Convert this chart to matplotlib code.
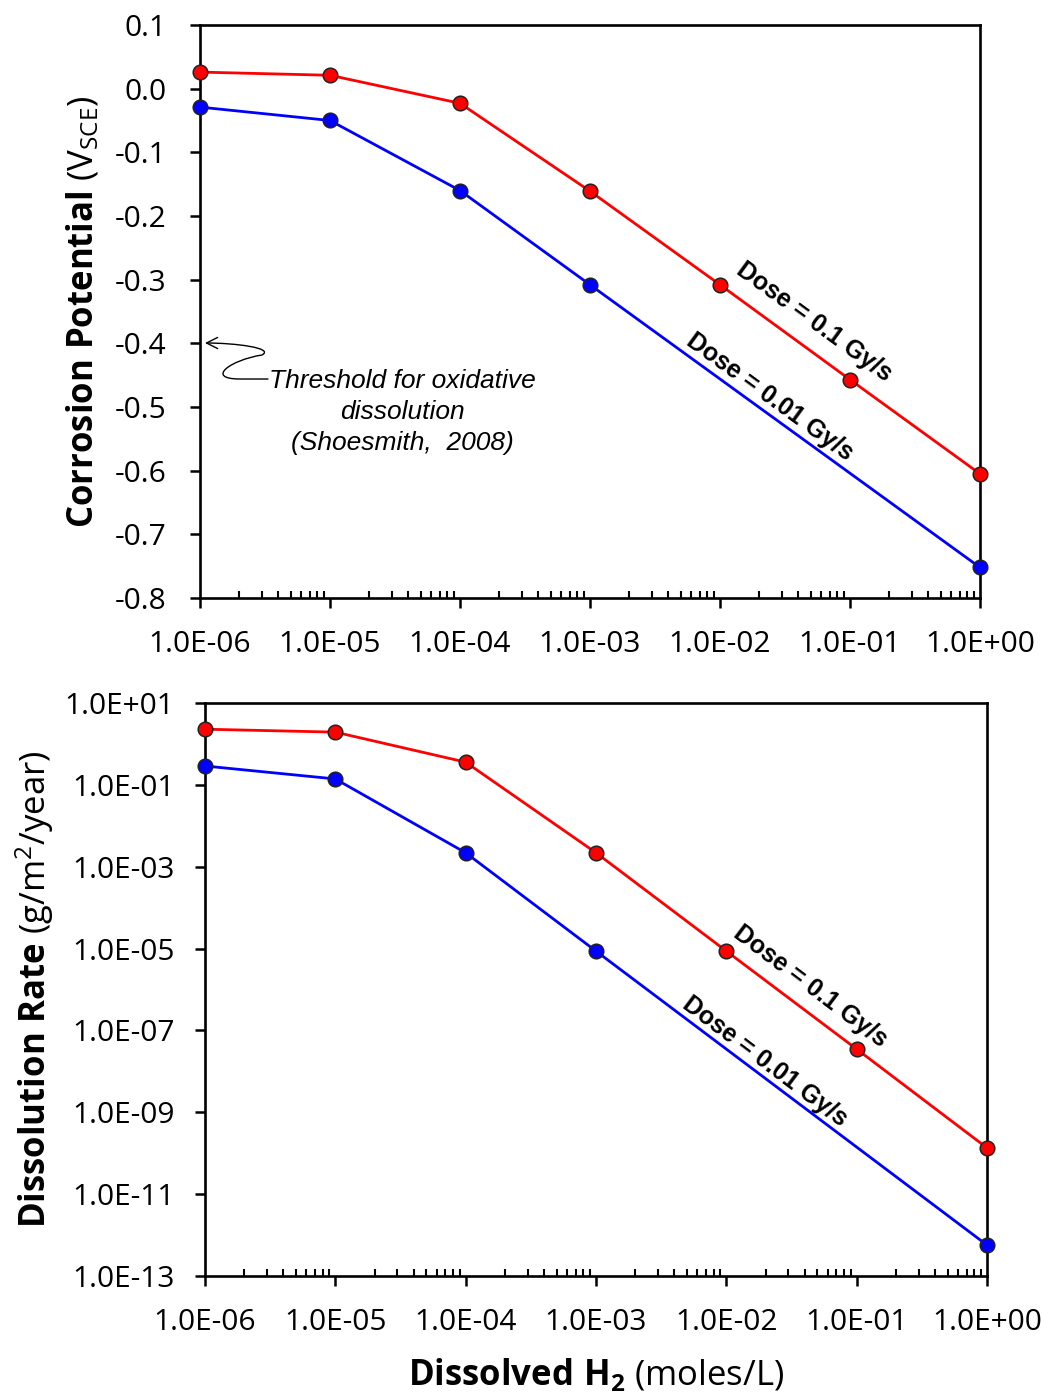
import numpy as np
import matplotlib
matplotlib.use("Agg")
import matplotlib.pyplot as plt
from matplotlib.ticker import FuncFormatter, LogLocator, FixedLocator
from matplotlib.patches import FancyArrowPatch
from matplotlib.path import Path

plt.rcParams["font.family"] = "Open Sans"
plt.rcParams["mathtext.fontset"] = "custom"
plt.rcParams["mathtext.rm"] = "Open Sans"
plt.rcParams["mathtext.bf"] = "Open Sans:bold"
plt.rcParams["mathtext.it"] = "Open Sans:italic"

# dissolved H2 (moles/L)
h2_red = [1e-6, 1e-5, 1e-4, 1e-3, 1e-2, 1e-1, 1e0]
h2_blue = [1e-6, 1e-5, 1e-4, 1e-3, 1e0]

# corrosion potential (V_SCE)
ecorr_01 = [0.026, 0.021, -0.023, -0.161, -0.308, -0.457, -0.605]
ecorr_001 = [-0.029, -0.050, -0.160, -0.308, -0.752]

# dissolution rate (g/m2/year)
rate_01 = [2.3, 1.95, 0.36, 2.2e-3, 8.7e-6, 3.5e-8, 1.35e-10]
rate_001 = [0.29, 0.14, 2.2e-3, 8.7e-6, 5.7e-13]

xticks = [1e-6, 1e-5, 1e-4, 1e-3, 1e-2, 1e-1, 1e0]
top_yticks = [0.1, 0.0, -0.1, -0.2, -0.3, -0.4, -0.5, -0.6, -0.7, -0.8]
bot_yticks = [1e1, 1e-1, 1e-3, 1e-5, 1e-7, 1e-9, 1e-11, 1e-13]

RED, BLUE = "#ff0000", "#0000ff"

fig = plt.figure(figsize=(10.42, 13.95), dpi=100)
ax1 = fig.add_axes([0.1919, 0.5713, 0.7486, 0.4108])
ax2 = fig.add_axes([0.1967, 0.0853, 0.7505, 0.4107])

sci = FuncFormatter(lambda v, p: f"{v:.1E}")


def style(ax, ypad):
    ax.set_xscale("log")
    ax.set_xlim(1e-6, 1e0)
    ax.xaxis.set_major_locator(FixedLocator(xticks))
    ax.xaxis.set_minor_locator(LogLocator(base=10, subs=np.arange(2, 10), numticks=20))
    ax.xaxis.set_major_formatter(sci)
    ax.xaxis.set_minor_formatter(FuncFormatter(lambda v, p: ""))
    ax.tick_params(axis="x", which="major", direction="out", length=7, width=1.8,
                   labelsize=21.5, pad=16)
    ax.tick_params(axis="x", which="minor", direction="in", length=5, width=1.5)
    ax.tick_params(axis="y", which="major", direction="out", length=7, width=1.8,
                   labelsize=21.5, pad=ypad)
    ax.tick_params(axis="y", which="minor", left=False)
    for s in ax.spines.values():
        s.set_linewidth(1.9)


def series(ax, x, y, color):
    ax.plot(x, y, "-", color=color, lw=2.0, marker="o", ms=10.5,
            mfc=color, mec="#222222", mew=1.1, clip_on=False, zorder=3)


def dose_label(ax, x, y, text, angle):
    ax.text(x, y, text, transform=ax.transAxes, rotation=angle, rotation_mode="anchor",
            ha="center", va="center", fontsize=18, fontweight="bold",
            family="Liberation Sans")


# top: corrosion potential
style(ax1, 17)
series(ax1, h2_red, ecorr_01, RED)
series(ax1, h2_blue, ecorr_001, BLUE)
ax1.set_ylim(-0.8, 0.1)
ax1.yaxis.set_major_locator(FixedLocator(top_yticks))
ax1.yaxis.set_major_formatter(FuncFormatter(lambda v, p: f"{v:.1f}".replace("-0.0", "0.0")))
ax1.set_ylabel(r"$\mathbf{Corrosion\ Potential}$ (V$_{\mathrm{SCE}}$)", fontsize=25, labelpad=10)

dose_label(ax1, 0.788, 0.482, "Dose = 0.1 Gy/s", -36)
dose_label(ax1, 0.731, 0.351, "Dose = 0.01 Gy/s", -36)

ax1.text(0.260, 0.400, "Threshold for oxidative\ndissolution\n(Shoesmith,  2008)",
         transform=ax1.transAxes, ha="center", va="top", fontsize=19, style="italic",
         family="Liberation Sans", linespacing=1.38)


# squiggly pointer, in axes fraction coordinates
def fx(px):
    return (px - 200) / 780.0


def fy(py):
    return 1 - (py - 25) / 573.0


verts = [(fx(268), fy(379)), (fx(240), fy(379)),
         (fx(205), fy(379)), (fx(230), fy(360)), (fx(262), fy(355)),
         (fx(275), fy(348)), (fx(235), fy(343)), (fx(205), fy(343))]
codes = [Path.MOVETO, Path.LINETO, Path.CURVE4, Path.CURVE4, Path.CURVE4,
         Path.CURVE4, Path.CURVE4, Path.CURVE4]
arrow = FancyArrowPatch(path=Path(verts, codes), arrowstyle="->,head_length=8,head_width=4",
                        transform=ax1.transAxes, color="black", lw=1.0, clip_on=False)
ax1.add_patch(arrow)

# bottom: dissolution rate
style(ax2, 15)
ax2.set_yscale("log")
series(ax2, h2_red, rate_01, RED)
series(ax2, h2_blue, rate_001, BLUE)
ax2.set_ylim(1e-13, 1e1)
ax2.yaxis.set_major_locator(FixedLocator(bot_yticks))
ax2.yaxis.set_major_formatter(sci)
ax2.yaxis.set_minor_locator(FixedLocator([]))
ax2.set_ylabel(r"$\mathbf{Dissolution\ Rate}$ (g/m$^{2}$/year)", fontsize=25, labelpad=6)
ax2.set_xlabel(r"$\mathbf{Dissolved\ H_2}$ (moles/L)", fontsize=25, labelpad=14)

dose_label(ax2, 0.774, 0.505, "Dose = 0.1 Gy/s", -37)
dose_label(ax2, 0.716, 0.375, "Dose = 0.01 Gy/s", -37)

fig.savefig("out.png", dpi=100)
